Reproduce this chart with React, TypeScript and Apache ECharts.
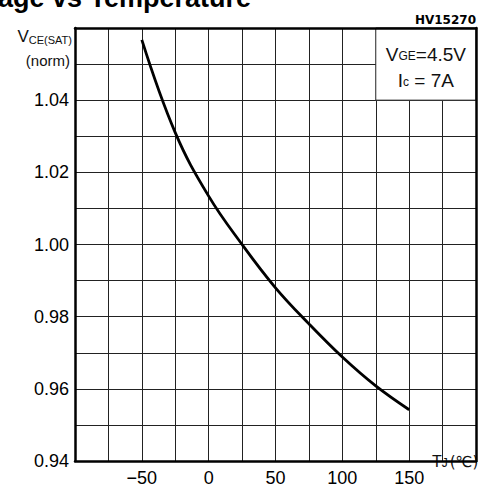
import React, { useEffect, useRef } from "react";
import * as echarts from "echarts";

// Junction temperature (°C) and normalized VCE(SAT)
const temps = [-50, -25, 0, 25, 50, 75, 100, 125, 150];
const vceNorm = [1.0567, 1.031, 1.0134, 1.0, 0.988, 0.978, 0.9688, 0.9608, 0.9542];

// Axis ranges and labelled ticks
const xRange = [-100, 200];
const xLabelled = [-50, 0, 50, 100, 150];
const yRange = [0.94, 1.06];
const yLabelled = [0.94, 0.96, 0.98, 1.0, 1.02, 1.04];

// Test-condition box (in axis units)
const condBoxX = [125, 200];
const condBoxY = [1.04, 1.06];

const FONT = "'Liberation Sans', Arial, Helvetica, sans-serif";

export default function App() {
  const ref = useRef<HTMLDivElement>(null);

  useEffect(() => {
    if (!ref.current) return;
    const chart = echarts.init(ref.current, undefined, { renderer: "svg" });

    const frameAxis = {
      show: true,
      z: 10,
      axisLine: { show: true, onZero: false, lineStyle: { color: "#000", width: 2.5 } },
      axisTick: { show: false },
      axisLabel: { show: false },
      splitLine: { show: false },
    };

    chart.setOption({
      animation: false,
      backgroundColor: "#fff",
      textStyle: { fontFamily: FONT },
      grid: { left: 75, right: 10, top: 28, bottom: 24, containLabel: false },
      xAxis: [
        {
          type: "value",
          min: xRange[0],
          max: xRange[1],
          interval: 25,
          axisLine: { show: true, onZero: false, lineStyle: { color: "#000", width: 2.5 } },
          axisTick: { show: false },
          splitLine: { show: true, lineStyle: { color: "#222", width: 1 } },
          axisLabel: {
            margin: 8,
            color: "#000",
            fontSize: 18,
            fontFamily: FONT,
            formatter: (v: number) =>
              xLabelled.includes(v) ? String(v).replace("-", "\u2212") : "",
          },
        },
        { type: "value", position: "top", min: xRange[0], max: xRange[1], ...frameAxis },
      ],
      yAxis: [
        {
          type: "value",
          min: yRange[0],
          max: yRange[1],
          interval: 0.01,
          axisLine: { show: true, onZero: false, lineStyle: { color: "#000", width: 2.5 } },
          axisTick: { show: false },
          splitLine: { show: true, lineStyle: { color: "#222", width: 1 } },
          axisLabel: {
            margin: 6,
            color: "#000",
            fontSize: 18,
            fontFamily: FONT,
            formatter: (v: number) =>
              yLabelled.some((t) => Math.abs(t - v) < 1e-6) ? v.toFixed(2) : "",
          },
        },
        { type: "value", position: "right", min: yRange[0], max: yRange[1], ...frameAxis },
      ],
      series: [
        {
          type: "line",
          xAxisIndex: 0,
          yAxisIndex: 0,
          data: temps.map((t, i) => [t, vceNorm[i]]),
          smooth: 0.4,
          showSymbol: false,
          lineStyle: { color: "#000", width: 2.8 },
          z: 3,
          markArea: {
            silent: true,
            itemStyle: { color: "#fff", borderColor: "#222", borderWidth: 1 },
            label: {
              show: true,
              position: "inside",
              color: "#111",
              fontFamily: FONT,
              rich: {
                v: { fontSize: 19, fontFamily: FONT, color: "#111", lineHeight: 26, verticalAlign: "bottom" },
                s: {
                  fontSize: 12,
                  fontFamily: FONT,
                  color: "#111",
                  lineHeight: 14,
                  verticalAlign: "bottom",
                  padding: [0, 0, 2, 0],
                },
              },
              formatter: "{v|V}{s|GE}{v|=4.5V}\n{v|I}{s|c}{v| = 7A}",
            },
            data: [
              [
                { xAxis: condBoxX[0], yAxis: condBoxY[0] },
                { xAxis: condBoxX[1], yAxis: condBoxY[1] },
              ],
            ],
          },
        },
      ],
      graphic: [
        {
          type: "text",
          left: -51,
          top: -16,
          style: {
            text: "Voltage vs Temperature",
            fontSize: 27,
            fontWeight: "bold",
            fontFamily: FONT,
            fill: "#000",
          },
        },
        {
          type: "text",
          right: 10,
          top: 14,
          style: {
            text: "HV15270",
            fontSize: 12,
            fontWeight: "bold",
            fontFamily: "'DejaVu Sans', sans-serif",
            fill: "#000",
          },
        },
        {
          type: "text",
          right: 414,
          top: 28,
          style: {
            text: "{b|V}{s|CE(SAT)}",
            rich: {
              b: { fontSize: 17, fontFamily: FONT, fill: "#111", lineHeight: 18, verticalAlign: "bottom" },
              s: { fontSize: 11, fontFamily: FONT, fill: "#111", lineHeight: 13, verticalAlign: "bottom" },
            },
          },
        },
        {
          type: "text",
          right: 416,
          top: 53,
          style: {
            text: "(norm)",
            fontSize: 15,
            fontFamily: FONT,
            fill: "#111",
          },
        },
        {
          type: "text",
          left: 432,
          top: 453,
          style: {
            text: "{b|T}{s|J}{m|(\u2103)}",
            rich: {
              b: { fontSize: 16, fontFamily: FONT, fill: "#111", lineHeight: 17, verticalAlign: "bottom" },
              s: { fontSize: 12, fontFamily: FONT, fill: "#111", lineHeight: 14, verticalAlign: "bottom", padding: [0, 2, 0, 0] },
              m: { fontSize: 15, fontFamily: "'DejaVu Sans', sans-serif", fill: "#111", lineHeight: 17, verticalAlign: "bottom" },
            },
          },
        },
      ],
    });

    return () => chart.dispose();
  }, []);

  return <div ref={ref} style={{ width: 486, height: 487, position: "absolute", left: 0, top: 0 }} />;
}
